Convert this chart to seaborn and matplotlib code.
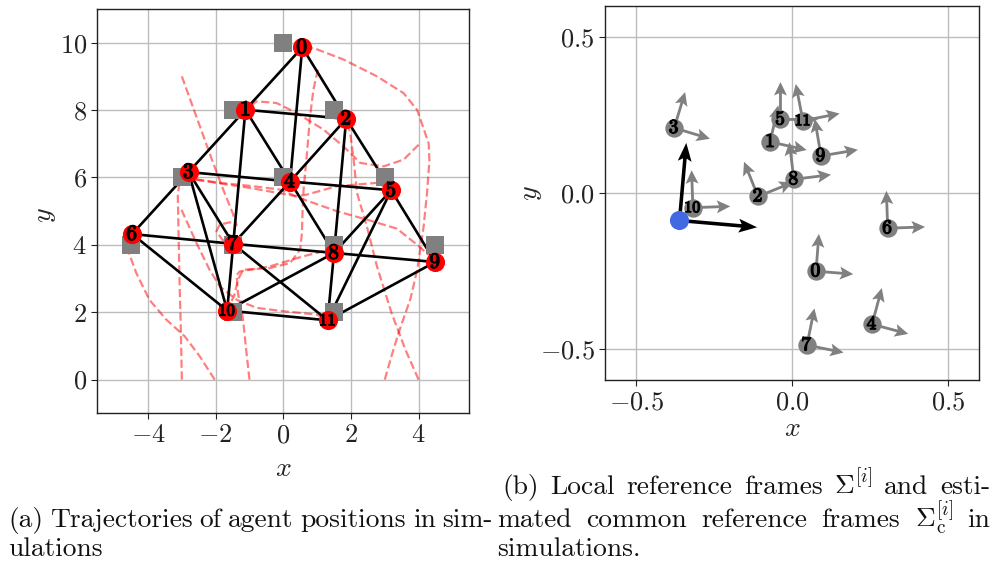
import numpy as np
import pandas as pd
import matplotlib
matplotlib.use("Agg")
import matplotlib.pyplot as plt
import matplotlib.patheffects as pe
import seaborn as sns

# ---------------- data ----------------
agent_ids = list(range(12))

# target formation (grey squares)
target_x = [0.0, -1.5, 1.5, -3.0, 0.0, 3.0, -4.5, -1.5, 1.5, 4.5, -1.5, 1.5]
target_y = [10.0, 8.0, 8.0, 6.0, 6.0, 6.0, 4.0, 4.0, 4.0, 4.0, 2.0, 2.0]

# final agent positions (red discs)
agent_x = [0.56, -1.12, 1.86, -2.80, 0.20, 3.19, -4.47, -1.48, 1.50, 4.49, -1.66, 1.31]
agent_y = [9.86, 8.01, 7.74, 6.16, 5.88, 5.62, 4.32, 4.03, 3.76, 3.49, 2.05, 1.76]

# communication graph
edges = [(0, 1), (0, 2), (0, 4), (1, 2), (1, 3), (1, 4), (1, 7), (2, 4), (2, 5),
         (2, 8), (3, 4), (3, 6), (3, 7), (3, 10), (4, 5), (4, 7), (4, 8), (5, 8),
         (5, 9), (5, 11), (6, 7), (6, 10), (7, 8), (7, 10), (7, 11), (8, 9),
         (8, 10), (8, 11), (9, 11), (10, 11)]

# trajectories (x list, y list) per agent
path_0_x = [3.0, 3.2, 3.41, 3.76, 3.96, 4.15, 4.25, 4.32, 4.3, 4.16, 3.96, 3.56, 2.77, 1.78, 0.9, 0.56]
path_0_y = [0.0, 0.7, 1.39, 2.4, 3.26, 4.55, 5.54, 6.5, 7.0, 7.42, 8.0, 8.5, 9.0, 9.5, 9.84, 9.86]
path_1_x = [4.0, 3.56, 2.97, 2.28, 1.78, 1.19, 0.4, -0.2, -0.79, -1.12]
path_1_y = [6.97, 6.53, 6.33, 6.43, 6.92, 7.42, 7.91, 8.21, 8.26, 8.01]
path_2_x = [4.0, 3.61, 3.2, 2.77, 2.47, 2.18, 2.08, 1.98, 1.86]
path_2_y = [0.0, 0.89, 1.98, 3.36, 4.55, 5.54, 6.53, 7.3, 7.74]
path_3_x = [-3.0, -3.03, -3.07, -3.1, -3.12, -3.05, -2.8]
path_3_y = [0.0, 1.5, 3.0, 4.5, 5.5, 5.95, 6.16]
path_5_x = [-2.9, -2.57, -0.99, 0.4, 0.69, 1.58, 2.77, 3.19]
path_5_y = [6.05, 5.93, 5.69, 5.44, 5.49, 5.74, 5.84, 5.62]
path_6_x = [-2.03, -2.47, -2.92, -3.46, -3.96, -4.35, -4.6, -4.55]
path_6_y = [0.0, 0.69, 1.29, 1.78, 2.37, 3.17, 3.86, 4.05]
path_7_x = [-3.0, -2.55, -2.1, -1.8, -1.5, -1.38, -1.58, -1.88, -1.98, -1.8, -1.48]
path_7_y = [9.0, 7.75, 6.5, 5.7, 4.95, 4.58, 4.67, 4.6, 4.4, 4.15, 4.03]
path_8_x = [-1.0, -1.1, -1.19, -1.34, -1.38, -1.29, -0.4, 0.59, 1.39, 1.5]
path_8_y = [0.0, 0.9, 1.78, 2.57, 3.1, 3.21, 3.36, 3.66, 3.86, 3.76]
path_9_x = [-2.9, -2.67, -1.88, -0.89, -0.1, 0.59, 1.58, 2.57, 3.36, 3.96, 4.3, 4.49]
path_9_y = [6.1, 5.96, 5.84, 5.74, 5.64, 5.35, 5.0, 4.72, 4.48, 4.0, 3.7, 3.49]
path_10_x = [1.02, 0.89, 0.79, 0.69, 0.6, 0.57, 0.55, 0.5, 0.2, -0.4, -1.19, -1.34, -1.45, -1.66]
path_10_y = [9.2, 8.6, 7.8, 6.6, 5.64, 5.0, 4.35, 3.86, 3.46, 3.31, 3.26, 2.97, 2.5, 2.05]
path_11_x = [-3.01, -2.57, -2.18, -1.88, -1.38, -0.79, 0.0, 0.99, 1.31]
path_11_y = [5.04, 4.06, 3.26, 2.77, 2.37, 2.13, 2.03, 1.93, 1.76]

paths = {
    0: (path_0_x, path_0_y), 1: (path_1_x, path_1_y), 2: (path_2_x, path_2_y),
    3: (path_3_x, path_3_y), 5: (path_5_x, path_5_y), 6: (path_6_x, path_6_y),
    7: (path_7_x, path_7_y), 8: (path_8_x, path_8_y), 9: (path_9_x, path_9_y),
    10: (path_10_x, path_10_y), 11: (path_11_x, path_11_y),
}

# local reference frames (origin and rotation in degrees)
frame_x = [0.077, -0.070, -0.109, -0.378, 0.257, -0.037, 0.307, 0.048, 0.006, 0.093, -0.318, 0.035]
frame_y = [-0.251, 0.164, -0.011, 0.209, -0.421, 0.236, -0.113, -0.488, 0.044, 0.119, -0.047, 0.232]
frame_angle = [-4.5, -12.5, 22.0, -17.0, -15.0, 0.0, 2.0, -11.5, 7.0, 9.5, 2.0, 11.0]
frame_len = 0.12

# estimated common reference frame
common_x = [-0.361]
common_y = [-0.086]
common_angle = -5.0
common_len = 0.25

# ---------------- style ----------------
sns.set_style("ticks")
plt.rcParams.update({
    "font.family": "serif",
    "font.serif": ["cmr10", "DejaVu Serif"],
    "mathtext.fontset": "cm",
    "axes.formatter.use_mathtext": True,
    "axes.unicode_minus": True,
    "axes.edgecolor": "#222222",
    "axes.linewidth": 1.0,
    "xtick.color": "#222222",
    "ytick.color": "#222222",
    "xtick.major.size": 4,
    "ytick.major.size": 4,
})

W, H = 995, 562
TICK_SIZE = 19
LABEL_SIZE = 20
CAP_SIZE = 19.8

fig = plt.figure(figsize=(W / 100, H / 100), dpi=100)
fig.patch.set_facecolor("white")
ax1 = fig.add_axes([97.3 / W, (H - 413.3) / H, 372 / W, 404.3 / H])
ax2 = fig.add_axes([605 / W, (H - 380) / H, 374 / W, 374 / H])

grid_kw = dict(color="#bdbdbd", linewidth=1.0, zorder=0)
heavy = [pe.withStroke(linewidth=0.9, foreground="black")]

# ---------------- left: trajectories ----------------
for i, (px, py) in paths.items():
    df = pd.DataFrame({"x": px, "y": py})
    sns.lineplot(data=df, x="x", y="y", sort=False, estimator=None, ax=ax1,
                 color="#ff0000", alpha=0.5, linewidth=1.6, linestyle="--", zorder=1)

for a, b in edges:
    ax1.plot([agent_x[a], agent_x[b]], [agent_y[a], agent_y[b]],
             color="black", linewidth=1.9, zorder=2, solid_capstyle="round")

sns.scatterplot(x=target_x, y=target_y, marker="s", s=150, color="#808080",
                linewidth=0, ax=ax1, zorder=3)
sns.scatterplot(x=agent_x, y=agent_y, marker="o", s=190, color="#ff0000",
                linewidth=0, ax=ax1, zorder=4)
for i in agent_ids:
    ax1.text(agent_x[i], agent_y[i], r"$\mathbf{%d}$" % i,
             fontsize=15.5 if i < 10 else 12, ha="center", va="center",
             color="black", zorder=5, path_effects=heavy)

ax1.set_xlim(-5.5, 5.5)
ax1.set_ylim(-1, 11)
ax1.set_xticks([-4, -2, 0, 2, 4])
ax1.set_yticks([0, 2, 4, 6, 8, 10])
ax1.grid(True, **grid_kw)
ax1.set_axisbelow(True)
ax1.set_xlabel("$x$", fontsize=LABEL_SIZE, va="center")
ax1.set_ylabel("$y$", fontsize=LABEL_SIZE, va="center")
ax1.xaxis.set_label_coords(0.5, -0.137)
ax1.yaxis.set_label_coords(-0.14, 0.49)
ax1.tick_params(labelsize=TICK_SIZE)

# ---------------- right: reference frames ----------------
ang = np.deg2rad(frame_angle)
ux = frame_len * np.cos(ang)
uy = frame_len * np.sin(ang)
arrow_kw = dict(angles="xy", scale_units="xy", scale=1, color="#808080",
                width=0.0075, headwidth=4.6, headlength=4.8, headaxislength=4.0,
                zorder=2)
ax2.quiver(frame_x, frame_y, ux, uy, **arrow_kw)
ax2.quiver(frame_x, frame_y, -uy, ux, **arrow_kw)

ca = np.deg2rad(common_angle)
cux, cuy = common_len * np.cos(ca), common_len * np.sin(ca)
black_kw = dict(angles="xy", scale_units="xy", scale=1, color="black",
                width=0.0095, headwidth=3.9, headlength=5.2, headaxislength=4.4,
                zorder=3)
ax2.quiver(common_x, common_y, [cux], [cuy], **black_kw)
ax2.quiver(common_x, common_y, [-cuy], [cux], **black_kw)

sns.scatterplot(x=frame_x, y=frame_y, marker="o", s=175, color="#808080",
                linewidth=0, ax=ax2, zorder=4)
for i in agent_ids:
    ax2.text(frame_x[i], frame_y[i], r"$\mathbf{%d}$" % i,
             fontsize=14 if i < 10 else 11.5, ha="center", va="center",
             color="black", zorder=5, path_effects=heavy)
sns.scatterplot(x=common_x, y=common_y, marker="o", s=190, color="#4169e1",
                linewidth=0, ax=ax2, zorder=6)

ax2.set_xlim(-0.6, 0.6)
ax2.set_ylim(-0.6, 0.6)
ax2.set_xticks([-0.5, 0.0, 0.5])
ax2.set_yticks([-0.5, 0.0, 0.5])
ax2.grid(True, **grid_kw)
ax2.set_axisbelow(True)
ax2.set_xlabel("$x$", fontsize=LABEL_SIZE, va="center")
ax2.set_ylabel("$y$", fontsize=LABEL_SIZE, va="center")
ax2.xaxis.set_label_coords(0.5, -0.13)
ax2.yaxis.set_label_coords(-0.197, 0.5)
ax2.tick_params(labelsize=TICK_SIZE)

# ---------------- captions (justified lines) ----------------
renderer = fig.canvas.get_renderer()


def caption_line(words, x0, x1, baseline, justify=True):
    texts = [fig.text(0, 0, w, fontsize=CAP_SIZE, ha="left", va="baseline",
                      color="#111111") for w in words]
    widths = [t.get_window_extent(renderer).width for t in texts]
    if justify and len(words) > 1:
        gap = (x1 - x0 - sum(widths)) / (len(words) - 1)
    else:
        gap = 7.0
    x = x0
    for t, w in zip(texts, widths):
        t.set_position((x / W, 1 - baseline / H))
        x += w + gap


caption_line(["(a)", "Trajectories", "of", "agent", "positions", "in", "sim-"],
             8, 493, 527)
caption_line(["ulations"], 8, 493, 556, justify=False)
caption_line(["(b)", "Local", "reference", "frames", r"$\Sigma^{[i]}$", "and", "esti-"],
             502, 990, 494)
caption_line(["mated", "common", "reference", "frames", r"$\Sigma_{\mathrm{c}}^{[i]}$", "in"],
             497, 990, 527)
caption_line(["simulations."], 497, 990, 556, justify=False)

fig.savefig("out.png", dpi=100, facecolor="white")
